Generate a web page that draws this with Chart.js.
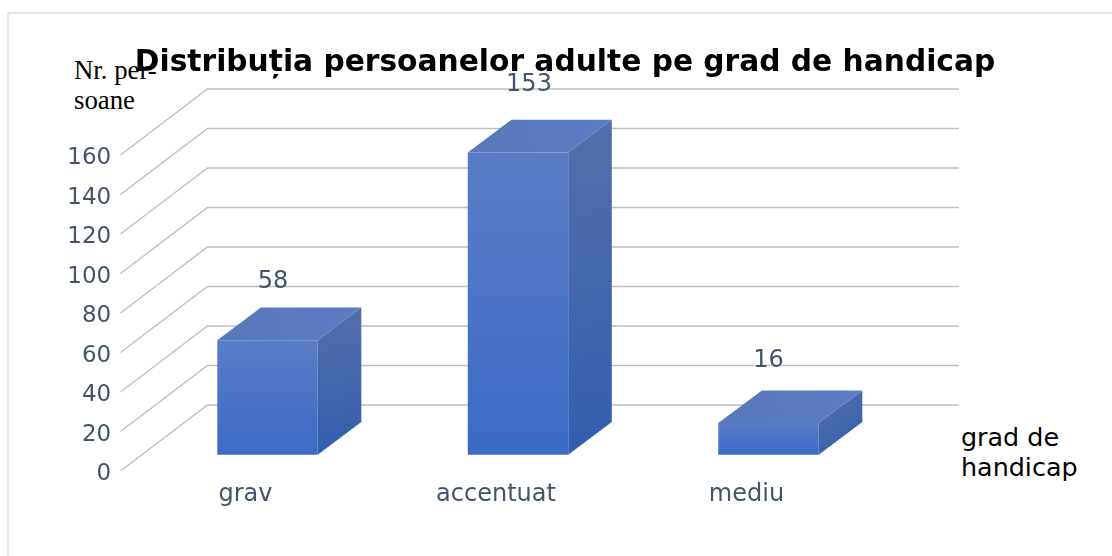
<!DOCTYPE html>
<html lang="ro">
<head>
  <meta charset="UTF-8">
  <title>Distribuția persoanelor adulte pe grad de handicap</title>
  <script src="https://cdn.jsdelivr.net/npm/chart.js"></script>
  <style>
    html, body { margin: 0; padding: 0; background: #fff; overflow: hidden; }
    .wrap { position: relative; width: 1112px; height: 556px; overflow: hidden; }
    .frame { position: absolute; left: 7px; top: 12px; width: 1200px; height: 700px; border: 2px solid #e3e7eb; box-sizing: border-box; }
    canvas { position: absolute; left: 0; top: 0; display: block; }
    .note { position: absolute; color: #000; white-space: pre; }
    .note-y { left: 74px; top: 55px; font: 26.8px/30px "Liberation Serif", serif; }
    .note-x { left: 961px; top: 422px; font: 25.4px/30px "DejaVu Sans", sans-serif; }
  </style>
</head>
<body>
  <div class="wrap">
    <div class="frame"></div>
    <div class="note note-y">Nr. per-
soane</div>
    <div class="note note-x">grad de
handicap</div>
    <canvas id="grafic" width="1112" height="556"></canvas>
  </div>

  <script>
    const categorii = ['grav', 'accentuat', 'mediu'];
    const persoane = [58, 153, 16];
    const titlu = 'Distribuția persoanelor adulte pe grad de handicap';
    const axaMax = 160;
    const axaPas = 20;

    // 3D look: pixels per unit, depth of the walls and of the bars
    const pxPeUnitate = 1.975;
    const adancimePerete = { x: 87, y: -66 };
    const adancimeBara = { x: 43.6, y: -32.7 };
    const coborareText = 3.5;    // tick text sits a bit under its gridline start
    const deplasareEtichete = [[5.5, -58.5], [11, -67.5], [0, -62.5]];

    const sus = 89, jos = 474.5, bazaBare = 454.7;
    const intervalEtichete = (jos - sus) / pxPeUnitate;
    const ridicareUnitati = (jos - bazaBare) / pxPeUnitate;

    const culoareText = '#44546a';
    const culoareGrila = '#bfbfbf';

    function gradient(ctx, x0, y0, x1, y1, c0, c1) {
      const g = ctx.createLinearGradient(x0, y0, x1, y1);
      g.addColorStop(0, c0);
      g.addColorStop(1, c1);
      return g;
    }

    const pereti = {
      id: 'pereti',
      beforeDatasetsDraw(chart) {
        const { ctx, scales: { y } } = chart;
        const dreapta = 959;
        const stanga = 120.5;
        ctx.save();
        ctx.strokeStyle = culoareGrila;
        ctx.lineWidth = 1.3;
        y.ticks.forEach(t => {
          const py = y.getPixelForValue(t.value) - coborareText;
          ctx.beginPath();
          ctx.moveTo(stanga, py);
          ctx.lineTo(stanga + adancimePerete.x, py + adancimePerete.y);
          ctx.lineTo(dreapta, py + adancimePerete.y);
          ctx.stroke();
        });
        ctx.restore();
      }
    };

    const volum = {
      id: 'volum',
      afterDatasetsDraw(chart) {
        const { ctx } = chart;
        const bare = chart.getDatasetMeta(0).data;
        const dx = adancimeBara.x, dy = adancimeBara.y;
        ctx.save();
        bare.forEach((b, i) => {
          const st = b.x - b.width / 2, dr = b.x + b.width / 2;
          const vf = b.y, baza = b.base;

          // top face
          ctx.fillStyle = gradient(ctx, st, vf, dr + dx, vf + dy, '#5878bb', '#5c7dc5');
          ctx.beginPath();
          ctx.moveTo(st, vf);
          ctx.lineTo(st + dx, vf + dy);
          ctx.lineTo(dr + dx, vf + dy);
          ctx.lineTo(dr, vf);
          ctx.closePath();
          ctx.fill();

          // side face
          ctx.fillStyle = gradient(ctx, dr, vf + dy, dr + dx, baza, '#566fab', '#305eae');
          ctx.beginPath();
          ctx.moveTo(dr, vf);
          ctx.lineTo(dr + dx, vf + dy);
          ctx.lineTo(dr + dx, baza + dy);
          ctx.lineTo(dr, baza);
          ctx.closePath();
          ctx.fill();

          // value label
          ctx.fillStyle = culoareText;
          ctx.font = '24px "DejaVu Sans", sans-serif';
          ctx.textAlign = 'center';
          ctx.textBaseline = 'middle';
          ctx.fillText(persoane[i], b.x + deplasareEtichete[i][0], vf + deplasareEtichete[i][1]);
        });
        ctx.restore();
      }
    };

    new Chart(document.getElementById('grafic'), {
      type: 'bar',
      data: {
        labels: categorii,
        datasets: [{
          data: persoane,
          yAxisID: 'yBare',
          barPercentage: 0.401,
          categoryPercentage: 1,
          backgroundColor(c) {
            const { ctx, scales } = c.chart;
            const fallback = '#4a75c6';
            if (!scales.yBare || !c.parsed) return fallback;
            const top = scales.yBare.getPixelForValue(c.parsed.y);
            const base = scales.yBare.getPixelForValue(0);
            if (!Number.isFinite(top) || !Number.isFinite(base)) return fallback;
            return gradient(ctx, 0, top, 0, base, '#5b7dc7', '#3a6bc6');
          }
        }]
      },
      options: {
        responsive: false,
        animation: false,
        layout: { padding: { left: 18 } },
        plugins: {
          legend: { display: false },
          tooltip: { enabled: false },
          title: {
            display: true,
            text: titlu,
            color: '#000',
            font: { family: '"DejaVu Sans", sans-serif', size: 29.7, weight: 'bold', lineHeight: 1.2 },
            padding: { top: 45, bottom: 8.36 }
          }
        },
        scales: {
          x: {
            grid: { display: false },
            border: { display: false },
            ticks: {
              color: culoareText,
              font: { family: '"DejaVu Sans", sans-serif', size: 24 },
              padding: -2.5,
              labelOffset: -22,
              maxRotation: 0,
              autoSkip: false
            },
            afterFit(s) { s.height = 556 - jos; }
          },
          y: {
            position: 'left',
            min: 0,
            max: intervalEtichete,
            grid: { display: false },
            border: { display: false },
            ticks: {
              stepSize: axaPas,
              color: culoareText,
              font: { family: '"DejaVu Sans", sans-serif', size: 23 },
              padding: 23
            },
            afterBuildTicks(s) { s.ticks = s.ticks.filter(t => t.value <= axaMax); },
            afterFit(s) { s.width = 124.25; }
          },
          yBare: {
            position: 'right',
            min: -ridicareUnitati,
            max: intervalEtichete - ridicareUnitati,
            grid: { display: false },
            border: { display: false },
            ticks: { display: false },
            afterFit(s) { s.width = 218.25; }
          }
        }
      },
      plugins: [pereti, volum]
    });
  </script>
</body>
</html>
